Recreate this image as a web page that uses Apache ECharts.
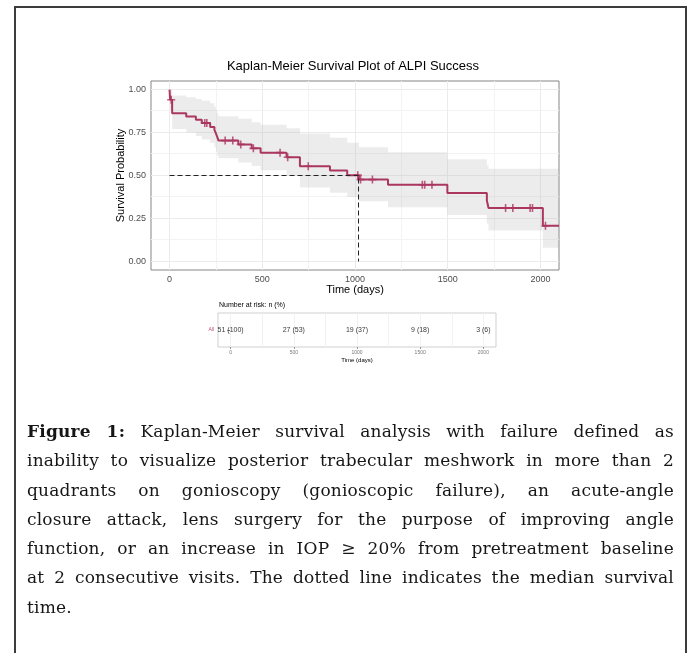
<!DOCTYPE html>
<html>
<head>
<meta charset="utf-8">
<script src="https://cdn.jsdelivr.net/npm/echarts@6/dist/echarts.min.js"></script>
<style>
html,body{margin:0;padding:0;width:691px;height:653px;overflow:hidden;background:#fff;}
#frame{position:absolute;left:14px;top:6px;width:673px;height:720px;box-sizing:border-box;border:2px solid #3c3c3c;border-bottom:none;}
#chart{position:absolute;left:0;top:0;width:691px;height:653px;}
#cap{position:absolute;left:27px;top:417px;width:647px;font-family:"DejaVu Serif","Liberation Serif",serif;font-size:17px;letter-spacing:0.2px;line-height:29.3px;color:#161616;}
#cap div{text-align:justify;text-align-last:justify;}
#cap div.last{text-align-last:left;}
</style>
</head>
<body>
<div id="frame"></div>
<div id="chart"></div>
<div id="cap">
<div><b>Figure 1:</b> Kaplan-Meier survival analysis with failure defined as</div>
<div>inability to visualize posterior trabecular meshwork in more than 2</div>
<div>quadrants on gonioscopy (gonioscopic failure), an acute-angle</div>
<div>closure attack, lens surgery for the purpose of improving angle</div>
<div>function, or an increase in IOP ≥ 20% from pretreatment baseline</div>
<div>at 2 consecutive visits. The dotted line indicates the median survival</div>
<div class="last">time.</div>
</div>
<script>
// ---- data ----
const kmTime = [0, 3, 14, 90, 142, 174, 219, 242, 250, 257, 264, 371, 443, 491, 631, 703, 865, 958, 1021, 1178, 1498, 1711, 1720, 2013, 2100];
const kmSurv = [1.00, 0.941, 0.863, 0.844, 0.824, 0.805, 0.782, 0.765, 0.745, 0.725, 0.703, 0.681, 0.658, 0.633, 0.606, 0.554, 0.529, 0.502, 0.476, 0.446, 0.398, 0.355, 0.311, 0.207, 0.207];
const ciUp   = [1.00, 1.00, 0.965, 0.955, 0.945, 0.935, 0.92, 0.90, 0.88, 0.86, 0.845, 0.83, 0.81, 0.795, 0.775, 0.745, 0.72, 0.69, 0.665, 0.635, 0.595, 0.56, 0.54, 0.54, 0.54];
const ciLow  = [1.00, 0.88, 0.77, 0.75, 0.73, 0.71, 0.69, 0.665, 0.64, 0.615, 0.60, 0.575, 0.555, 0.53, 0.50, 0.43, 0.40, 0.375, 0.35, 0.315, 0.27, 0.22, 0.18, 0.08, 0.08];
const censorTime = [9, 190, 201, 300, 341, 384, 452, 596, 637, 748, 1015, 1030, 1094, 1363, 1376, 1415, 1812, 1851, 1944, 1957, 2027];
const medianTime = 1019;
const medianSurv = 0.5;
const xTicks = [0, 500, 1000, 1500, 2000];
const xMinor = [250, 750, 1250, 1750];
const yTicks = [0, 0.25, 0.5, 0.75, 1.0];
const yMinor = [0.125, 0.375, 0.625, 0.875];
const strata = ['All'];
const riskTime = [0, 500, 1000, 1500, 2000];
const riskLabel = ['51 (100)', '27 (53)', '19 (37)', '9 (18)', '3 (6)'];

const FONT = '"Liberation Sans", Arial, Helvetica, sans-serif';
const curveColor = '#ab3660';

function survAt(t) {
  let s = kmSurv[0];
  for (let i = 0; i < kmTime.length; i++) if (kmTime[i] <= t) s = kmSurv[i];
  return s;
}

const majorStyle = {color: '#ebebeb', width: 1, type: 'solid'};
const minorStyle = {color: '#f3f3f3', width: 1, type: 'solid'};
const riskGridStyle = {color: '#f1f1f1', width: 1, type: 'solid'};

const chart = echarts.init(document.getElementById('chart'), null, {renderer: 'canvas'});

const option = {
  animation: false,
  backgroundColor: 'transparent',
  graphic: [
    {type: 'text', x: 353, y: 66, silent: true,
     style: {text: 'Kaplan-Meier Survival Plot of ALPI Success', font: '13px ' + FONT, fill: '#000', textAlign: 'center', textVerticalAlign: 'middle'}},
    {type: 'text', x: 219, y: 305, silent: true,
     style: {text: 'Number at risk: n (%)', font: '7px ' + FONT, fill: '#000', textAlign: 'left', textVerticalAlign: 'middle'}}
  ],
  grid: [
    {left: 151, top: 81, width: 408, height: 189, show: true, borderColor: '#858585', borderWidth: 1, backgroundColor: '#fff', containLabel: false, outerBoundsMode: 'none'},
    {left: 218, top: 313, width: 278, height: 34, show: true, borderColor: '#cfcfcf', borderWidth: 1, backgroundColor: '#fff', containLabel: false, outerBoundsMode: 'none'}
  ],
  xAxis: [
    {type: 'value', gridIndex: 0, min: -100, max: 2100,
     axisLine: {show: false}, splitLine: {show: false},
     axisTick: {show: true, customValues: xTicks, length: 3, lineStyle: {color: '#333', width: 1}},
     axisLabel: {customValues: xTicks, fontSize: 9, color: '#4d4d4d', margin: 5, fontFamily: FONT, formatter: v => String(v)},
     name: 'Time (days)', nameLocation: 'middle', nameGap: 14, nameMoveOverlap: false,
     nameTextStyle: {fontSize: 11, color: '#000', fontFamily: FONT}},
    {type: 'value', gridIndex: 1, min: -100, max: 2100,
     axisLine: {show: false}, splitLine: {show: false},
     axisTick: {show: true, customValues: riskTime, length: 2, lineStyle: {color: '#555', width: 0.6}},
     axisLabel: {customValues: riskTime, fontSize: 5, color: '#777', margin: 3, fontFamily: FONT, formatter: v => String(v)},
     name: 'Time (days)', nameLocation: 'middle', nameGap: 10, nameMoveOverlap: false,
     nameTextStyle: {fontSize: 6, color: '#000', fontFamily: FONT}}
  ],
  yAxis: [
    {type: 'value', gridIndex: 0, min: -0.05, max: 1.05,
     axisLine: {show: false}, splitLine: {show: false},
     axisTick: {show: true, customValues: yTicks, length: 3, lineStyle: {color: '#333', width: 1}},
     axisLabel: {customValues: yTicks, fontSize: 9, color: '#4d4d4d', margin: 5, fontFamily: FONT,
                 formatter: v => Number(v).toFixed(2)},
     name: 'Survival Probability', nameLocation: 'middle', nameGap: 25, nameMoveOverlap: false,
     nameTextStyle: {fontSize: 11, color: '#000', fontFamily: FONT}},
    {type: 'category', gridIndex: 1, data: strata,
     axisLine: {show: false}, splitLine: {show: false},
     axisTick: {show: true, alignWithLabel: true, length: 3, lineStyle: {color: '#444', width: 0.8}},
     axisLabel: {fontSize: 5, color: '#c0506f', margin: 4, fontFamily: FONT}}
  ],
  series: [
    // panel grid lines
    {type: 'line', xAxisIndex: 0, yAxisIndex: 0, z: 1, data: [[-5000, -5000]], showSymbol: false, silent: true,
     lineStyle: {opacity: 0},
     markLine: {z: 1, silent: true, symbol: ['none', 'none'], label: {show: false}, animation: false,
       data: [].concat(
         xMinor.map(v => ({xAxis: v, lineStyle: minorStyle})),
         yMinor.map(v => ({yAxis: v, lineStyle: minorStyle})),
         xTicks.map(v => ({xAxis: v, lineStyle: majorStyle})),
         yTicks.map(v => ({yAxis: v, lineStyle: majorStyle}))
       )}},
    // confidence band
    {type: 'custom', xAxisIndex: 0, yAxisIndex: 0, z: 2, data: [0], silent: true, clip: true,
     renderItem: function (params, api) {
       const pts = [];
       const n = kmTime.length;
       for (let i = 0; i < n; i++) {
         const t0 = kmTime[i], t1 = i + 1 < n ? kmTime[i + 1] : kmTime[i];
         pts.push(api.coord([t0, ciUp[i]]));
         pts.push(api.coord([t1, ciUp[i]]));
       }
       for (let i = n - 1; i >= 0; i--) {
         const t0 = kmTime[i], t1 = i + 1 < n ? kmTime[i + 1] : kmTime[i];
         pts.push(api.coord([t1, ciLow[i]]));
         pts.push(api.coord([t0, ciLow[i]]));
       }
       return {type: 'polygon', shape: {points: pts}, style: {fill: 'rgba(175,175,175,0.24)'}};
     }},
    // KM curve
    {type: 'line', xAxisIndex: 0, yAxisIndex: 0, z: 3, step: 'end', showSymbol: false, silent: true,
     data: kmTime.map((t, i) => [t, kmSurv[i]]),
     lineStyle: {color: curveColor, width: 2}},
    // censor marks
    {type: 'scatter', xAxisIndex: 0, yAxisIndex: 0, z: 4, silent: true,
     symbol: 'path://M4,0H6V4H10V6H6V10H4V6H0V4H4Z', symbolSize: 8,
     itemStyle: {color: curveColor},
     data: censorTime.map(t => [t, survAt(t)])},
    // median survival line
    {type: 'line', xAxisIndex: 0, yAxisIndex: 0, z: 5, showSymbol: false, silent: true,
     data: [[0, medianSurv], [medianTime, medianSurv], [medianTime, 0]],
     lineStyle: {color: '#222', width: 1, type: [5, 3]}},
    // risk table grid lines
    {type: 'line', xAxisIndex: 1, yAxisIndex: 1, z: 1, data: [], showSymbol: false, silent: true,
     markLine: {z: 1, silent: true, symbol: ['none', 'none'], label: {show: false}, animation: false,
       data: [].concat(
         xMinor.map(v => ({xAxis: v, lineStyle: riskGridStyle})),
         riskTime.map(v => ({xAxis: v, lineStyle: riskGridStyle}))
       )}},
    // risk table numbers
    {type: 'scatter', xAxisIndex: 1, yAxisIndex: 1, z: 4, silent: true, symbolSize: 0,
     data: riskTime.map((t, i) => [t, strata[0]]),
     label: {show: true, position: 'inside', fontSize: 7, color: '#000', fontFamily: FONT,
             formatter: p => riskLabel[p.dataIndex]}}
  ]
};
chart.setOption(option);
</script>
</body>
</html>
